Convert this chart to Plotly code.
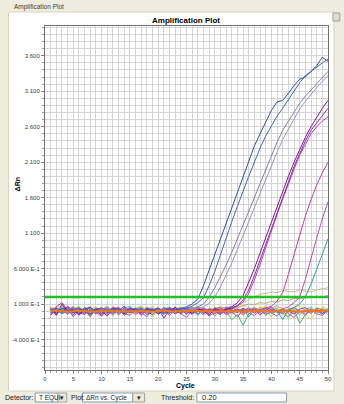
import plotly.graph_objects as go

W, H = 344, 404
ML, MR, MT, MB = 45, 12, 26, 34

cycles = list(range(1, 51))
threshold = 0.20
y_tick_vals = [3.6, 3.1, 2.6, 2.1, 1.6, 1.1, 0.6, 0.1, -0.4]
y_tick_text = ["3.600", "3.100", "2.600", "2.100", "1.600", "1.100", "6.000 E-1", "1.000 E-1", "-4.000 E-1"]
x_tick_vals = [0, 5, 10, 15, 20, 25, 30, 35, 40, 45, 50]

# flat (non-amplified) wells
flat_yellowgreen = [0.05, 0.02, 0.08, -0.03, 0.01, 0.04, -0.02, 0.03, 0.06, 0.0, -0.04, 0.02, 0.05, 0.01, -0.03, 0.04, 0.07, 0.02, -0.01, 0.03, 0.0, 0.05, -0.02, 0.01, 0.04, 0.06, 0.02, -0.03, 0.01, 0.03, 0.05, 0.0, -0.05, 0.02, 0.04, 0.01, -0.02, 0.03, 0.07, 0.02, 0.0, -0.03, 0.04, 0.05, 0.01, -0.06, 0.02, 0.03, 0.0, 0.04]
flat_purple = [-0.02, 0.06, 0.12, 0.01, -0.05, 0.03, 0.02, -0.08, 0.04, 0.01, 0.05, -0.03, 0.0, 0.07, -0.02, 0.02, -0.06, 0.03, 0.01, 0.05, -0.1, 0.02, 0.04, -0.01, 0.03, 0.0, 0.06, -0.04, 0.02, 0.01, -0.03, 0.05, 0.02, -0.02, 0.04, 0.0, 0.03, -0.05, 0.01, 0.06, -0.02, 0.02, 0.0, -0.04, 0.03, 0.05, -0.01, 0.02, -0.03, 0.01]
flat_green = [0.03, -0.04, 0.02, 0.05, -0.02, 0.0, 0.04, -0.06, 0.01, 0.03, -0.02, 0.05, 0.02, -0.04, 0.0, 0.03, -0.01, 0.04, -0.05, 0.02, 0.01, -0.03, 0.04, 0.0, -0.02, 0.05, -0.04, 0.01, 0.03, -0.07, 0.02, 0.0, -0.12, -0.05, -0.2, -0.04, 0.02, 0.03, -0.06, 0.01, 0.04, -0.03, -0.08, 0.02, -0.17, -0.05, 0.03, 0.0, -0.04, 0.02]
flat_cyan = [0.04, 0.01, -0.03, 0.06, 0.02, -0.01, 0.05, 0.03, -0.04, 0.02, 0.06, 0.0, -0.02, 0.04, 0.07, 0.01, -0.03, 0.02, 0.05, -0.02, 0.03, 0.06, 0.01, -0.04, 0.02, 0.04, -0.01, 0.05, 0.0, 0.03, -0.03, 0.04, 0.06, 0.01, -0.02, 0.03, 0.05, -0.06, 0.02, 0.0, 0.04, -0.02, 0.03, 0.01, -0.05, 0.02, 0.06, -0.03, 0.04, 0.01]
flat_lavender = [-0.04, 0.03, 0.0, -0.02, 0.05, -0.06, 0.01, 0.04, -0.03, 0.02, -0.05, 0.03, 0.06, -0.01, 0.02, -0.04, 0.03, 0.0, 0.05, -0.03, 0.02, -0.06, 0.01, 0.04, -0.02, 0.03, 0.0, -0.05, 0.04, 0.02, -0.01, 0.06, -0.03, 0.0, 0.03, -0.04, 0.05, 0.02, -0.02, 0.04, 0.08, 0.03, -0.02, 0.05, 0.01, -0.03, 0.04, 0.0, 0.02, -0.05]
flat_khaki = [0.02, -0.06, 0.04, 0.0, -0.08, 0.03, -0.02, 0.05, -0.05, 0.01, 0.03, -0.07, 0.02, 0.0, -0.04, 0.06, -0.02, 0.01, -0.09, 0.03, 0.0, -0.03, 0.05, -0.05, 0.02, -0.01, 0.04, -0.06, 0.0, 0.02, -0.04, 0.03, 0.01, -0.07, 0.02, -0.03, 0.0, 0.04, -0.05, 0.01, -0.02, 0.03, -0.1, 0.0, 0.02, -0.04, -0.12, 0.01, -0.03, 0.02]
flat_red = [0.01, 0.03, -0.02, 0.04, 0.0, -0.03, 0.02, 0.05, -0.01, -0.04, 0.03, 0.01, -0.02, 0.04, 0.02, -0.05, 0.01, 0.03, 0.0, -0.02, 0.05, 0.01, -0.03, 0.02, 0.04, -0.01, 0.0, 0.03, -0.04, 0.02, 0.05, -0.02, 0.01, 0.03, -0.03, 0.0, 0.04, 0.01, -0.02, 0.03, 0.0, -0.04, 0.02, 0.05, -0.01, 0.01, -0.03, 0.04, 0.02, 0.0]
flat_lightgreen = [-0.01, 0.05, 0.02, -0.05, 0.03, 0.07, -0.02, 0.01, 0.04, -0.03, 0.02, 0.05, -0.06, 0.03, 0.0, 0.04, -0.02, 0.06, 0.01, -0.04, 0.02, 0.03, -0.01, 0.05, 0.0, -0.05, 0.03, 0.02, -0.02, 0.06, 0.01, -0.03, 0.04, 0.02, -0.06, 0.03, 0.0, 0.05, 0.02, -0.08, 0.03, 0.01, -0.02, 0.04, 0.0, 0.03, -0.04, 0.05, 0.01, -0.02]
flat_yellow = [0.06, 0.03, -0.01, 0.04, 0.07, 0.0, 0.03, -0.03, 0.05, 0.02, 0.08, -0.02, 0.03, 0.06, 0.01, -0.04, 0.05, 0.02, 0.07, 0.0, 0.03, -0.05, 0.04, 0.06, 0.01, 0.03, 0.08, -0.01, 0.04, 0.02, 0.06, -0.02, 0.03, 0.05, 0.09, 0.02, -0.03, 0.06, 0.04, 0.01, 0.07, 0.03, -0.02, 0.05, 0.08, 0.02, 0.04, -0.04, 0.06, 0.03]
flat_violet = [-0.06, 0.02, -0.03, 0.05, -0.08, 0.01, -0.04, 0.03, -0.02, -0.07, 0.02, -0.05, 0.04, -0.03, -0.06, 0.01, -0.02, -0.08, 0.03, -0.04, 0.0, -0.06, 0.02, -0.03, -0.09, 0.01, -0.04, 0.03, -0.07, -0.02, 0.02, -0.05, -0.01, -0.08, 0.02, -0.03, -0.06, 0.01, -0.04, -0.02, -0.07, 0.02, -0.03, -0.09, 0.0, -0.05, 0.02, -0.04, -0.06, 0.01]
flat_tan = [0.03, -0.02, 0.05, 0.01, -0.03, 0.02, 0.04, -0.01, 0.0, 0.03, -0.04, 0.02, 0.05, 0.0, -0.02, 0.03, 0.01, -0.03, 0.04, 0.02, 0.0, -0.02, 0.03, 0.05, 0.01, -0.01, 0.04, 0.02, 0.0, 0.05, 0.03, 0.06, 0.05, 0.08, 0.12, 0.16, 0.2, 0.24, 0.25, 0.27, 0.26, 0.29, 0.28, 0.27, 0.3, 0.28, 0.27, 0.3, 0.31, 0.33]
flat_olive = [-0.03, 0.02, 0.0, 0.04, -0.02, 0.01, 0.03, -0.04, 0.02, 0.0, 0.05, -0.01, 0.03, -0.03, 0.02, 0.04, 0.0, -0.02, 0.03, 0.01, -0.04, 0.02, 0.05, 0.0, -0.01, 0.03, 0.02, 0.04, 0.01, 0.03, 0.06, 0.04, 0.07, 0.05, 0.08, 0.1, 0.09, 0.12, 0.11, 0.14, 0.13, 0.16, 0.15, 0.18, 0.17, 0.2, 0.19, 0.21, 0.2, 0.22]
flat_orange = [0.0, 0.01, 0.0, -0.01, 0.0, 0.01, 0.0, 0.0, -0.01, 0.01, 0.0, 0.01, 0.0, -0.01, 0.0, 0.0, 0.01, 0.0, -0.01, 0.0, 0.01, 0.0, 0.0, -0.01, 0.0, 0.01, 0.0, 0.0, 0.01, -0.01, 0.0, 0.0, 0.01, 0.0, -0.01, 0.0, 0.01, 0.0, 0.0, -0.01, 0.0, 0.01, 0.0, 0.0, -0.01, 0.0, 0.01, 0.0, 0.0, 0.01]

# amplified wells
amp_blue1 = [0.02, -0.03, 0.04, 0.01, -0.02, 0.03, 0.0, -0.04, 0.02, 0.05, -0.01, 0.03, 0.0, -0.03, 0.04, 0.01, -0.02, 0.03, 0.02, -0.04, 0.01, 0.03, 0.0, 0.04, 0.06, 0.1, 0.17, 0.36, 0.58, 0.8, 1.03, 1.25, 1.48, 1.7, 1.92, 2.12, 2.33, 2.5, 2.66, 2.83, 2.95, 2.97, 3.07, 3.18, 3.27, 3.3, 3.38, 3.46, 3.58, 3.52]
amp_blue2 = [-0.01, 0.03, 0.01, -0.04, 0.02, 0.05, -0.02, 0.01, 0.03, -0.03, 0.02, 0.0, 0.04, -0.02, 0.01, 0.03, -0.01, 0.02, 0.0, 0.04, -0.03, 0.01, 0.02, 0.03, 0.04, 0.07, 0.12, 0.19, 0.36, 0.56, 0.8, 1.03, 1.26, 1.48, 1.7, 1.9, 2.1, 2.3, 2.47, 2.62, 2.75, 2.86, 2.98, 3.1, 3.22, 3.32, 3.38, 3.45, 3.5, 3.55]
amp_gray1 = [0.03, 0.0, -0.03, 0.02, 0.04, -0.01, 0.02, 0.0, -0.04, 0.03, 0.01, -0.02, 0.04, 0.02, -0.01, 0.0, 0.03, -0.03, 0.02, 0.01, 0.04, -0.02, 0.0, 0.03, 0.02, 0.04, 0.06, 0.1, 0.2, 0.33, 0.48, 0.65, 0.83, 1.02, 1.2, 1.4, 1.6, 1.8, 2.0, 2.2, 2.38, 2.55, 2.68, 2.82, 2.93, 3.03, 3.12, 3.2, 3.3, 3.38]
amp_gray2 = [-0.02, 0.02, 0.05, -0.01, 0.0, 0.03, -0.03, 0.02, 0.01, -0.02, 0.04, 0.0, -0.03, 0.02, 0.05, -0.01, 0.01, 0.03, -0.04, 0.02, 0.0, 0.03, -0.01, 0.02, 0.01, 0.03, 0.04, 0.06, 0.11, 0.2, 0.34, 0.5, 0.68, 0.87, 1.06, 1.26, 1.46, 1.66, 1.86, 2.05, 2.24, 2.42, 2.57, 2.72, 2.85, 2.96, 3.06, 3.15, 3.24, 3.32]
amp_purple1 = [0.04, -0.06, 0.1, -0.02, 0.03, -0.05, 0.02, 0.06, -0.03, 0.01, -0.07, 0.04, 0.02, -0.04, 0.05, -0.02, 0.03, 0.0, -0.05, 0.04, 0.01, -0.03, 0.06, -0.02, 0.02, -0.04, 0.03, 0.01, -0.06, 0.04, 0.0, 0.02, 0.06, 0.12, 0.22, 0.4, 0.6, 0.82, 1.04, 1.27, 1.48, 1.7, 1.9, 2.1, 2.28, 2.45, 2.6, 2.74, 2.86, 2.97]
amp_purple2 = [-0.05, 0.04, -0.02, 0.07, 0.0, -0.04, 0.05, -0.01, 0.02, -0.06, 0.03, 0.01, -0.03, 0.05, -0.02, 0.0, 0.04, -0.05, 0.02, 0.03, -0.02, 0.05, -0.04, 0.01, 0.03, -0.03, 0.04, -0.01, 0.02, 0.0, -0.05, 0.03, 0.04, 0.08, 0.16, 0.3, 0.5, 0.72, 0.95, 1.18, 1.4, 1.62, 1.84, 2.04, 2.22, 2.4, 2.55, 2.65, 2.76, 2.86]
amp_purple3 = [0.02, 0.05, -0.04, 0.01, 0.06, -0.02, -0.05, 0.03, 0.0, 0.04, -0.03, 0.02, 0.05, -0.06, 0.01, 0.03, -0.02, 0.04, 0.0, -0.03, 0.05, 0.02, -0.01, 0.03, -0.04, 0.02, 0.0, 0.04, -0.02, 0.03, 0.01, -0.03, 0.03, 0.07, 0.13, 0.25, 0.44, 0.66, 0.9, 1.13, 1.36, 1.58, 1.8, 2.0, 2.2, 2.36, 2.5, 2.6, 2.68, 2.74]
amp_pink1 = [0.01, -0.03, 0.04, 0.02, -0.01, 0.05, -0.04, 0.02, 0.0, 0.03, -0.02, 0.06, 0.01, -0.03, 0.02, 0.04, -0.05, 0.01, 0.03, 0.0, -0.02, 0.04, 0.02, -0.03, 0.05, 0.0, -0.01, 0.03, 0.02, -0.04, 0.04, 0.01, -0.02, 0.03, 0.0, 0.05, -0.03, 0.02, 0.04, 0.07, 0.14, 0.26, 0.52, 0.8, 1.08, 1.34, 1.57, 1.78, 1.95, 2.1]
amp_pink2 = [-0.03, 0.02, 0.0, 0.05, -0.02, 0.03, 0.01, -0.04, 0.04, 0.02, -0.01, 0.03, -0.05, 0.02, 0.04, 0.0, -0.02, 0.05, 0.01, -0.03, 0.03, 0.0, 0.04, 0.02, -0.04, 0.01, 0.05, -0.02, 0.03, 0.01, -0.03, 0.04, 0.0, 0.02, -0.05, 0.03, 0.01, -0.02, 0.04, 0.02, 0.0, 0.03, 0.06, 0.12, 0.2, 0.45, 0.75, 1.03, 1.3, 1.54]
amp_teal = [0.02, 0.04, -0.02, 0.0, 0.03, -0.04, 0.01, 0.05, -0.01, 0.02, 0.0, -0.03, 0.04, 0.01, -0.02, 0.03, 0.05, -0.01, 0.0, 0.02, -0.05, 0.03, 0.01, 0.04, -0.02, 0.02, -0.06, 0.03, 0.0, 0.02, -0.03, 0.04, 0.01, -0.02, 0.03, -0.08, 0.02, 0.0, 0.04, -0.03, 0.01, -0.12, 0.02, 0.05, 0.1, 0.2, 0.38, 0.58, 0.8, 1.02]

series = [
    (flat_yellowgreen, "#b8cc50", 1),
    (flat_yellow, "#e0d840", 1),
    (flat_khaki, "#d8d070", 1),
    (flat_tan, "#c8bc90", 1),
    (flat_olive, "#b4b070", 1),
    (flat_green, "#48b868", 1),
    (flat_cyan, "#50c8c0", 1),
    (flat_lavender, "#c0a0e0", 1),
    (flat_lightgreen, "#90d870", 1),
    (flat_red, "#e05848", 1),
    (flat_violet, "#b058d0", 1),
    (flat_purple, "#a030c0", 1),
    (amp_teal, "#30a0b0", 1),
    (amp_pink2, "#c848b8", 1),
    (amp_pink1, "#d038a8", 1),
    (amp_purple3, "#b040c8", 1),
    (amp_purple2, "#9828a8", 1),
    (amp_purple1, "#801890", 1),
    (amp_gray2, "#9898c0", 1),
    (amp_gray1, "#8080b0", 1),
    (amp_blue2, "#4868b8", 1),
    (amp_blue1, "#3050a8", 1),
    (flat_orange, "#f07818", 2),
]

fig = go.Figure()
for vals, col, w in series:
    fig.add_trace(go.Scatter(x=cycles, y=vals, mode="lines",
                             line=dict(color=col, width=w), showlegend=False, hoverinfo="skip"))

fig.add_trace(go.Scatter(x=[0, 50], y=[threshold, threshold], mode="lines",
                         line=dict(color="#22c022", width=2.5), showlegend=False, hoverinfo="skip"))

FONT = "Liberation Sans"
PW, PH = W - ML - MR, H - MT - MB

def px(x):
    return (x - ML) / PW

def py(y):
    return (H - MB - y) / PH

shapes = []
# white inner panel of the group box
shapes.append(dict(type="rect", xref="paper", yref="paper", x0=px(8), x1=px(338), y0=py(391), y1=py(12),
                   fillcolor="white", line=dict(color="#d8d4c0", width=1), layer="below"))
# control boxes in the bottom strip
for x0, x1 in [(35, 58), (83, 134), (199, 290)]:
    shapes.append(dict(type="rect", xref="paper", yref="paper", x0=px(x0), x1=px(x1), y0=py(402), y1=py(393),
                       fillcolor="white", line=dict(color="#7f9db9", width=1), layer="below"))
for x0, x1 in [(58, 67), (134, 146)]:
    shapes.append(dict(type="rect", xref="paper", yref="paper", x0=px(x0), x1=px(x1), y0=py(402), y1=py(393),
                       fillcolor="#ece9d8", line=dict(color="#a0a0a0", width=1), layer="below"))
# small button top right
shapes.append(dict(type="rect", xref="paper", yref="paper", x0=px(337), x1=px(344), y0=py(21), y1=py(13),
                   fillcolor="#e0ddd0", line=dict(color="#a0a0a0", width=1), layer="below"))

annotations = [
    dict(text="Amplification Plot", x=px(12), y=py(7), xref="paper", yref="paper", showarrow=False,
         xanchor="left", yanchor="middle", font=dict(family=FONT, size=6.5, color="#404040")),
    dict(text="<b>Amplification Plot</b>", x=px(188), y=py(21), xref="paper", yref="paper", showarrow=False,
         xanchor="center", yanchor="middle", font=dict(family=FONT, size=8, color="#000000")),
    dict(text="<b>Cycle</b>", x=px(187), y=py(386), xref="paper", yref="paper", showarrow=False,
         xanchor="center", yanchor="middle", font=dict(family=FONT, size=7, color="#000000")),
    dict(text="<b>ΔRn</b>", x=px(17), y=py(184), xref="paper", yref="paper", showarrow=False, textangle=-90,
         xanchor="center", yanchor="middle", font=dict(family=FONT, size=7, color="#000000")),
    dict(text="Detector:", x=px(2), y=py(397.5), xref="paper", yref="paper", showarrow=False,
         xanchor="left", yanchor="middle", font=dict(family=FONT, size=7, color="#202020")),
    dict(text="T EQUI", x=px(37), y=py(397.5), xref="paper", yref="paper", showarrow=False,
         xanchor="left", yanchor="middle", font=dict(family=FONT, size=6.5, color="#202020")),
    dict(text="▾", x=px(62.5), y=py(397.5), xref="paper", yref="paper", showarrow=False,
         xanchor="center", yanchor="middle", font=dict(family=FONT, size=7, color="#202020")),
    dict(text="Plot:", x=px(69), y=py(397.5), xref="paper", yref="paper", showarrow=False,
         xanchor="left", yanchor="middle", font=dict(family=FONT, size=7, color="#202020")),
    dict(text="ΔRn vs. Cycle", x=px(85), y=py(397.5), xref="paper", yref="paper", showarrow=False,
         xanchor="left", yanchor="middle", font=dict(family=FONT, size=6.5, color="#202020")),
    dict(text="▾", x=px(140), y=py(397.5), xref="paper", yref="paper", showarrow=False,
         xanchor="center", yanchor="middle", font=dict(family=FONT, size=7, color="#202020")),
    dict(text="Threshold:", x=px(161), y=py(397.5), xref="paper", yref="paper", showarrow=False,
         xanchor="left", yanchor="middle", font=dict(family=FONT, size=7, color="#202020")),
    dict(text="%.2f" % threshold, x=px(202), y=py(397.5), xref="paper", yref="paper", showarrow=False,
         xanchor="left", yanchor="middle", font=dict(family=FONT, size=7.5, color="#202020")),
]

fig.update_layout(
    width=W, height=H,
    margin=dict(l=ML, r=MR, t=MT, b=MB),
    paper_bgcolor="#efedde",
    plot_bgcolor="white",
    shapes=shapes,
    annotations=annotations,
    font=dict(family=FONT, size=6, color="#303030"),
)
fig.update_xaxes(range=[0, 50], tickvals=x_tick_vals, ticks="outside", ticklen=3, tickcolor="#808080",
                 showgrid=True, gridcolor="#d4d4d4", gridwidth=1,
                 minor=dict(dtick=1, tick0=0, showgrid=True, gridcolor="#d4d4d4", ticks="outside", ticklen=2, tickcolor="#a0a0a0"),
                 showline=True, linecolor="#707070", linewidth=1, mirror=True, zeroline=False,
                 tickfont=dict(family=FONT, size=6, color="#404040"))
fig.update_yaxes(range=[-0.83, 4.02], tickmode="array", tickvals=y_tick_vals, ticktext=y_tick_text,
                 ticks="outside", ticklen=3, tickcolor="#808080",
                 showgrid=True, gridcolor="#d4d4d4", gridwidth=1,
                 minor=dict(tickmode="linear", dtick=0.1, tick0=0.0, showgrid=True, gridcolor="#d4d4d4", ticks="outside", ticklen=2, tickcolor="#a0a0a0"),
                 showline=True, linecolor="#707070", linewidth=1, mirror=True, zeroline=False,
                 tickfont=dict(family=FONT, size=6, color="#404040"))

fig.write_html("out.html", config={"displayModeBar": False},
               post_script="document.body.style.margin='0';document.body.style.overflow='hidden';")
